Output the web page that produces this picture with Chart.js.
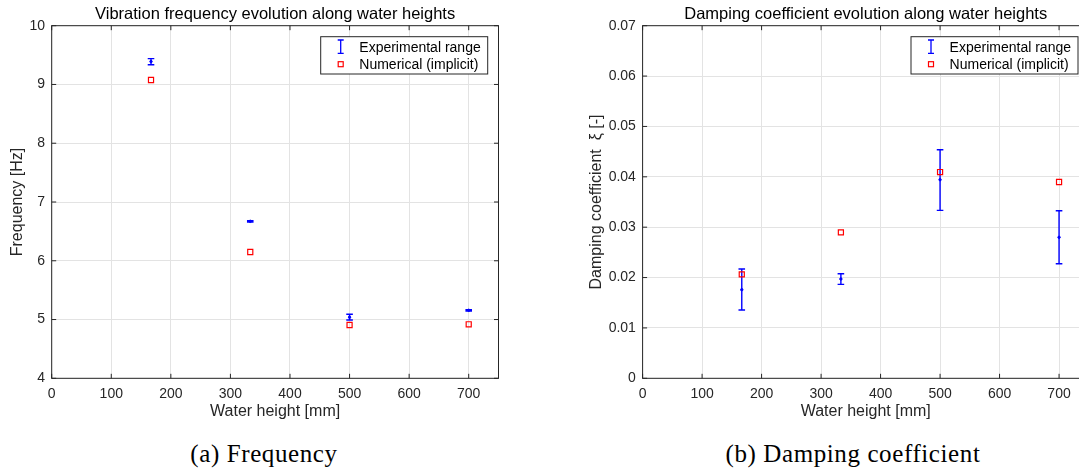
<!DOCTYPE html>
<html lang="en">
<head>
    <meta charset="UTF-8">
    <title>Frequency and damping along water heights</title>
    <script src="https://cdn.jsdelivr.net/npm/chart.js"></script>
    <style>
        body {
            margin: 0;
            width: 1079px;
            height: 473px;
            overflow: hidden;
            background: #fff;
            position: relative;
        }
        canvas {
            position: absolute;
            top: 0;
        }
        .caption {
            position: absolute;
            top: 440px;
            font-family: "Liberation Serif", "Times New Roman", serif;
            font-size: 25px;
            letter-spacing: 0.6px;
            line-height: 28px;
            text-align: center;
            color: #000;
        }
    </style>
</head>
<body>
    <canvas id="freqChart" width="540" height="426" style="left:0px"></canvas>
    <canvas id="dampChart" width="560" height="426" style="left:540px"></canvas>
    <div class="caption" style="left:114px; width:300px">(a) Frequency</div>
    <div class="caption" style="left:703px; width:300px">(b) Damping coefficient</div>

    <script>
        // water heights [mm]
        const heights = [166.7, 333.3, 500, 700];

        // frequency [Hz]
        const freqLow = [9.336, 6.660, 4.992, 5.146];
        const freqHigh = [9.439, 6.682, 5.089, 5.167];
        const freqMid = [9.39, 6.671, 5.04, 5.157];
        const freqNum = [9.076, 6.149, 4.907, 4.919];

        // damping coefficient xi [-]
        const dampLow = [0.01356, 0.01865, 0.03334, 0.02275];
        const dampHigh = [0.02170, 0.02077, 0.04538, 0.03327];
        const dampMid = [0.01759, 0.01971, 0.03943, 0.02799];
        const dampNum = [0.02064, 0.02898, 0.04095, 0.03897];

        const xTicks = [0, 100, 200, 300, 400, 500, 600, 700];
        const freqTicks = [4, 5, 6, 7, 8, 9, 10];
        const dampTicks = [0, 0.01, 0.02, 0.03, 0.04, 0.05, 0.06, 0.07];

        const axisColor = '#262626';
        const gridColor = '#e3e3e3';

        Chart.defaults.font.family = '"Liberation Sans", Arial, sans-serif';
        Chart.defaults.color = axisColor;

        // error bars, matlab style box with inner ticks, and the boxed legend
        const matlabPlugin = {
            id: 'matlabPlugin',
            beforeDatasetsDraw(chart) {
                const ctx = chart.ctx;
                const xs = chart.scales.x, ys = chart.scales.y;
                chart.data.datasets.forEach(ds => {
                    if (!ds.errLow) return;
                    ctx.save();
                    ctx.strokeStyle = ds.borderColor;
                    ctx.lineWidth = 1.4;
                    ds.data.forEach((p, j) => {
                        const px = xs.getPixelForValue(p.x);
                        const lo = ys.getPixelForValue(ds.errLow[j]);
                        const hi = ys.getPixelForValue(ds.errHigh[j]);
                        ctx.beginPath();
                        ctx.moveTo(px, lo); ctx.lineTo(px, hi);
                        ctx.moveTo(px - 3.3, lo); ctx.lineTo(px + 3.3, lo);
                        ctx.moveTo(px - 3.3, hi); ctx.lineTo(px + 3.3, hi);
                        ctx.stroke();
                    });
                    ctx.restore();
                });
            },
            afterDraw(chart) {
                const ctx = chart.ctx;
                const ca = chart.chartArea;
                const xs = chart.scales.x, ys = chart.scales.y;
                ctx.save();
                ctx.strokeStyle = axisColor;
                ctx.lineWidth = 1;
                ctx.strokeRect(ca.left, ca.top, ca.right - ca.left, ca.bottom - ca.top);
                const tl = 4.5;
                ctx.beginPath();
                xs.ticks.forEach(t => {
                    const px = xs.getPixelForValue(t.value);
                    ctx.moveTo(px, ca.bottom); ctx.lineTo(px, ca.bottom - tl);
                    ctx.moveTo(px, ca.top); ctx.lineTo(px, ca.top + tl);
                });
                ys.ticks.forEach(t => {
                    const py = ys.getPixelForValue(t.value);
                    ctx.moveTo(ca.left, py); ctx.lineTo(ca.left + tl, py);
                    ctx.moveTo(ca.right, py); ctx.lineTo(ca.right - tl, py);
                });
                ctx.stroke();

                // legend
                const bw = 167, bh = 37.3;
                const bx = ca.right - 10.8 - bw, by = ca.top + 11;
                ctx.fillStyle = '#fff';
                ctx.fillRect(bx, by, bw, bh);
                ctx.strokeRect(bx, by, bw, bh);
                const exp = chart.data.datasets[0], num = chart.data.datasets[1];
                const ix = bx + 20;
                ctx.strokeStyle = exp.borderColor;
                ctx.lineWidth = 1.3;
                ctx.beginPath();
                ctx.moveTo(ix, by + 3.3); ctx.lineTo(ix, by + 16.6);
                ctx.moveTo(ix - 3, by + 3.3); ctx.lineTo(ix + 3, by + 3.3);
                ctx.moveTo(ix - 3, by + 16.6); ctx.lineTo(ix + 3, by + 16.6);
                ctx.stroke();
                ctx.strokeStyle = num.borderColor;
                ctx.lineWidth = 1.2;
                ctx.strokeRect(ix - 2.5, by + 25, 5, 5);
                ctx.fillStyle = '#000';
                ctx.font = '14px "Liberation Sans", Arial, sans-serif';
                ctx.textBaseline = 'middle';
                ctx.fillText(exp.label, bx + 38.6, by + 11.8);
                ctx.fillText(num.label, bx + 38.6, by + 28.4);
                ctx.restore();
            }
        };

        function drawChart(id, opts) {
            const ctx = document.getElementById(id).getContext('2d');
            return new Chart(ctx, {
                type: 'scatter',
                data: {
                    datasets: [{
                        label: 'Experimental range',
                        data: heights.map((h, i) => ({ x: h, y: opts.mid[i] })),
                        errLow: opts.low,
                        errHigh: opts.high,
                        borderColor: '#0000ff',
                        backgroundColor: '#0000ff',
                        pointRadius: 1.2,
                        order: 1
                    }, {
                        label: 'Numerical (implicit)',
                        data: heights.map((h, i) => ({ x: h, y: opts.num[i] })),
                        pointStyle: 'rect',
                        pointRadius: 3.6,
                        borderColor: '#ff0000',
                        backgroundColor: 'rgba(0,0,0,0)',
                        borderWidth: 1.2,
                        order: 0
                    }]
                },
                options: {
                    responsive: false,
                    animation: false,
                    layout: { padding: opts.padding },
                    plugins: {
                        legend: { display: false },
                        tooltip: { enabled: false },
                        title: {
                            display: true,
                            fullSize: false,
                            text: opts.title,
                            color: '#000',
                            font: { size: 16.5, weight: 'normal' },
                            padding: { top: 4.1, bottom: 1.8 }
                        }
                    },
                    scales: {
                        x: {
                            type: 'linear',
                            min: 0,
                            max: 750,
                            afterBuildTicks: s => { s.ticks = xTicks.map(v => ({ value: v })); },
                            afterFit: s => { s.height = 47.3; },
                            grid: { color: gridColor, drawTicks: false },
                            border: { display: false },
                            ticks: { padding: 7, font: { size: 14 } },
                            title: {
                                display: true,
                                text: 'Water height [mm]',
                                font: { size: 16 },
                                padding: { top: 4, bottom: 4 }
                            }
                        },
                        y: {
                            min: opts.yTicks[0],
                            max: opts.yTicks[opts.yTicks.length - 1],
                            afterBuildTicks: s => { s.ticks = opts.yTicks.map(v => ({ value: v })); },
                            afterFit: s => { s.width = opts.yWidth; },
                            grid: { color: gridColor, drawTicks: false },
                            border: { display: false },
                            ticks: {
                                padding: 6.7,
                                font: { size: 14 },
                                callback: opts.yFormat
                            },
                            title: {
                                display: true,
                                text: opts.yTitle,
                                font: { size: 16 },
                                padding: { top: 4, bottom: 4 }
                            }
                        }
                    }
                },
                plugins: [matlabPlugin]
            });
        }

        drawChart('freqChart', {
            title: 'Vibration frequency evolution along water heights',
            yTitle: 'Frequency [Hz]',
            low: freqLow, high: freqHigh, mid: freqMid, num: freqNum,
            yTicks: freqTicks,
            yWidth: 47.4,
            yFormat: v => String(v),
            padding: { left: 4.3, right: 41.5, top: 0, bottom: 0.4 }
        });

        drawChart('dampChart', {
            title: 'Damping coefficient evolution along water heights',
            yTitle: 'Damping coefficient  \u03be [-]',
            low: dampLow, high: dampHigh, mid: dampMid, num: dampNum,
            yTicks: dampTicks,
            yWidth: 59.5,
            yFormat: v => v === 0 ? '0' : v.toFixed(2),
            padding: { left: 43.1, right: 11.2, top: 0, bottom: 0.4 }
        });
    </script>
</body>
</html>
